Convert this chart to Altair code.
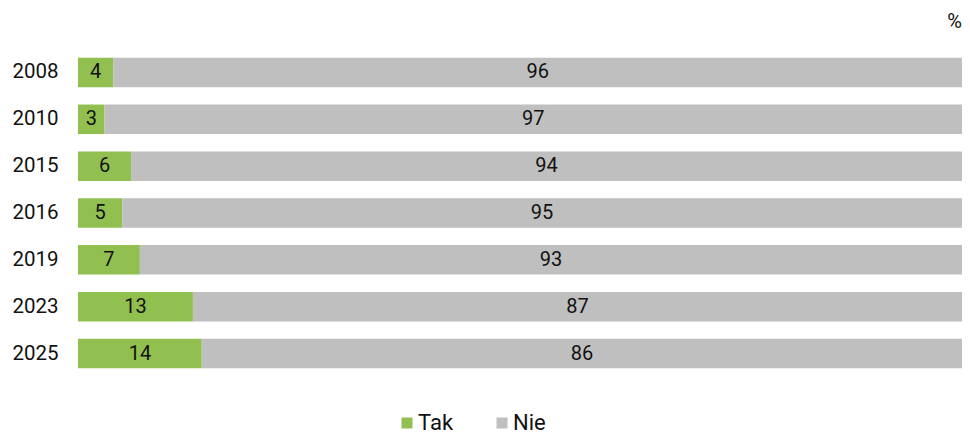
import altair as alt
import pandas as pd

years = ["2008", "2010", "2015", "2016", "2019", "2023", "2025"]
tak = [4, 3, 6, 5, 7, 13, 14]
nie = [96, 97, 94, 95, 93, 87, 86]
series = ["Tak", "Nie"]
colors = ["#92C050", "#BFBFBF"]

rows = []
for y, t, n in zip(years, tak, nie):
    rows.append({"year": y, "answer": "Tak", "order": 0, "value": t})
    rows.append({"year": y, "answer": "Nie", "order": 1, "value": n})
df = pd.DataFrame(rows)

FONT = "Roboto"

base = alt.Chart(df).transform_stack(
    stack="value", groupby=["year"], sort=[alt.SortField("order")], as_=["x0", "x1"]
).transform_calculate(mid="(datum.x0 + datum.x1) / 2")

yenc = alt.Y(
    "year:N",
    sort=years,
    title=None,
    scale=alt.Scale(paddingInner=0.37, paddingOuter=0.185),
    axis=alt.Axis(domain=False, ticks=False, labelFontSize=20.5, labelFont=FONT,
                  labelColor="#111111", labelPadding=20),
)

bars = base.mark_bar().encode(
    x=alt.X("x0:Q", scale=alt.Scale(domain=[0, 100]), axis=None),
    x2="x1:Q",
    y=yenc,
    color=alt.Color(
        "answer:N",
        scale=alt.Scale(domain=series, range=colors),
        legend=alt.Legend(
            title=None, orient="none", direction="horizontal",
            legendX=314, legendY=363, symbolType="square", symbolSize=121,
            symbolStrokeWidth=0, symbolOffset=4, labelFontSize=22, labelFont=FONT,
            labelColor="#111111", columnPadding=33, labelOffset=0,
        ),
    ),
)

labels = base.mark_text(fontSize=20, font=FONT, color="#111111").encode(
    x=alt.X("mid:Q", scale=alt.Scale(domain=[0, 100])),
    y=alt.Y("year:N", sort=years),
    text="value:Q",
)

chart = (bars + labels).properties(
    width=884,
    height=328,
    autosize=alt.AutoSizeParams(type="none"),
    padding={"left": 70, "top": 41, "right": 0, "bottom": 58},
    title=alt.TitleParams("%", anchor="end", fontSize=20, font=FONT,
                          fontWeight="normal", color="#111111", offset=17),
).configure_view(stroke=None)

chart.save("out.html", embed_options={"renderer": "svg", "actions": False})
